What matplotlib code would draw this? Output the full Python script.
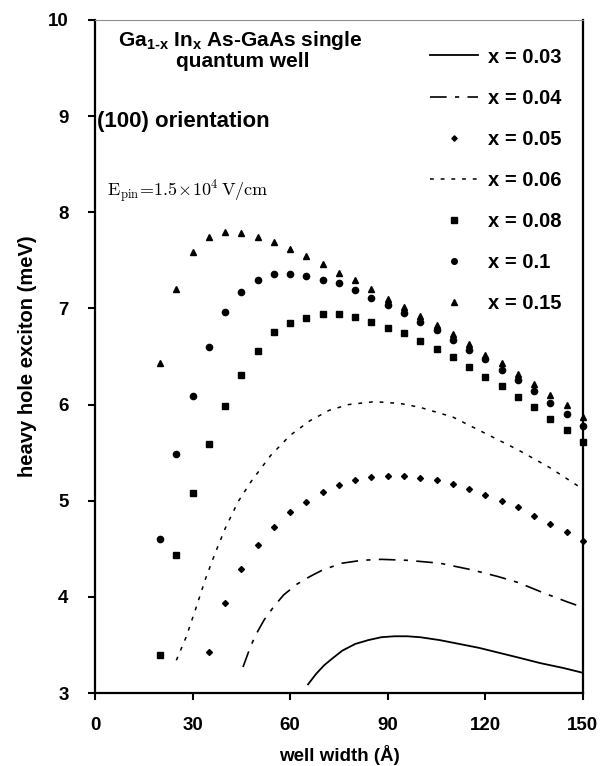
import matplotlib
matplotlib.use("Agg")
import matplotlib.pyplot as plt

plt.rcParams['font.family'] = ['Liberation Sans', 'DejaVu Sans']
plt.rcParams['font.weight'] = 'bold'
plt.rcParams['mathtext.fontset'] = 'custom'
plt.rcParams['mathtext.rm'] = 'Liberation Sans:bold'
plt.rcParams['mathtext.bf'] = 'Liberation Sans:bold'
plt.rcParams['mathtext.it'] = 'Liberation Sans:bold'

# --- data ---
w_pts = [20, 25, 30, 35, 40, 45, 50, 55, 60, 65, 70, 75, 80, 85, 90, 95,
         100, 105, 110, 115, 120, 125, 130, 135, 140, 145, 150]

e_x015 = [6.43, 7.20, 7.59, 7.74, 7.79, 7.78, 7.74, 7.69, 7.62, 7.54, 7.46, 7.37,
          7.29, 7.20, 7.10, 7.01, 6.92, 6.83, 6.73, 6.63, 6.52, 6.43, 6.32, 6.21,
          6.10, 5.99, 5.87]
e_x010 = [4.60, 5.49, 6.09, 6.60, 6.96, 7.17, 7.30, 7.36, 7.36, 7.34, 7.30, 7.26,
          7.19, 7.11, 7.03, 6.95, 6.86, 6.77, 6.67, 6.57, 6.47, 6.36, 6.25, 6.14,
          6.02, 5.90, 5.78]
e_x008 = [3.39, 4.43, 5.08, 5.59, 5.98, 6.31, 6.56, 6.75, 6.85, 6.90, 6.94, 6.94,
          6.91, 6.86, 6.80, 6.74, 6.66, 6.58, 6.49, 6.39, 6.29, 6.19, 6.08, 5.97,
          5.85, 5.73, 5.61]
w_x005 = w_pts[3:]
e_x005 = [3.43, 3.94, 4.29, 4.54, 4.73, 4.88, 4.99, 5.09, 5.16, 5.22, 5.25, 5.26,
          5.26, 5.24, 5.22, 5.17, 5.12, 5.06, 5.00, 4.93, 4.84, 4.76, 4.67, 4.58]

w_x006 = [25, 28, 31, 34, 37, 40, 44, 48, 54, 60, 66, 72, 78, 86, 94, 100, 110,
          120, 130, 140, 150]
e_x006 = [3.34, 3.58, 3.88, 4.19, 4.46, 4.71, 4.99, 5.20, 5.47, 5.68, 5.83, 5.94,
          6.00, 6.03, 6.01, 5.97, 5.87, 5.70, 5.53, 5.34, 5.12]

w_x004 = [45.5, 48, 50, 52, 55, 58, 62, 66, 70, 76, 82, 88, 96, 106, 116, 124,
          130, 138, 145, 150]
e_x004 = [3.27, 3.50, 3.64, 3.76, 3.90, 4.02, 4.13, 4.21, 4.28, 4.35, 4.38, 4.39,
          4.38, 4.35, 4.28, 4.21, 4.15, 4.04, 3.95, 3.89]

w_x003 = [65.5, 68, 70.5, 73, 76, 80, 84, 88, 92, 96, 100, 106, 112, 118, 124,
          130, 137, 144, 150]
e_x003 = [3.09, 3.20, 3.29, 3.36, 3.44, 3.51, 3.55, 3.58, 3.59, 3.59, 3.58, 3.55,
          3.51, 3.47, 3.42, 3.37, 3.31, 3.26, 3.21]

fig = plt.figure(figsize=(6.11, 7.66), dpi=100)
ax = fig.add_axes([0.1555, 0.0953, 0.7985, 0.8787])

ax.plot(w_x003, e_x003, color='black', lw=1.3, label='x = 0.03')
ax.plot(w_x004, e_x004, color='black', lw=1.2, dashes=(10, 5, 2.5, 5), label='x = 0.04')
ax.plot(w_x005, e_x005, ls='none', marker='D', ms=3, color='black', clip_on=False,
        label='x = 0.05')
ax.plot(w_x006, e_x006, color='black', lw=1.1, dashes=(2.5, 4.5), label='x = 0.06')
ax.plot(w_pts, e_x008, ls='none', marker='s', ms=4.5, color='black', clip_on=False,
        label='x = 0.08')
ax.plot(w_pts, e_x010, ls='none', marker='o', ms=4.5, color='black', clip_on=False,
        label='x = 0.1')
ax.plot(w_pts, e_x015, ls='none', marker='^', ms=4.5, color='black', clip_on=False,
        label='x = 0.15')

ax.set_xlim(0, 150)
ax.set_ylim(3, 10)
ax.set_xticks([0, 30, 60, 90, 120, 150])
ax.set_yticks([3, 4, 5, 6, 7, 8, 9, 10])
ax.tick_params(direction='out', length=5, width=1.5, labelsize=13.5)
ax.tick_params(axis='x', pad=12)
ax.tick_params(axis='y', pad=14)
for side in ['left', 'bottom', 'right']:
    ax.spines[side].set_linewidth(1.6)
ax.spines['top'].set_linewidth(0.8)
ax.spines['top'].set_color('0.55')

ax.set_xlabel('well width (Å)', fontsize=13.5, fontweight='bold', labelpad=8)
ax.set_ylabel('heavy hole exciton (meV)', fontsize=14.5, fontweight='bold', labelpad=8)

ax.legend(loc='upper left', bbox_to_anchor=(0.686, 0.959), frameon=False,
          fontsize=14.5, handlelength=2.4, handletextpad=0.5, labelspacing=1.1,
          borderpad=0, borderaxespad=0, numpoints=1, markerscale=0.9)

ax.text(0.297, 0.970, r'Ga$_{\mathbf{1\text{-}x}}$ In$_{\mathbf{x}}$ As-GaAs single',
        transform=ax.transAxes, ha='center', va='center', fontsize=15,
        fontweight='bold')
ax.text(0.302, 0.938, 'quantum well', transform=ax.transAxes, ha='center',
        va='center', fontsize=15, fontweight='bold')
ax.text(0.005, 0.849, '(100) orientation', transform=ax.transAxes, ha='left',
        va='center', fontsize=16, fontweight='bold')
ax.text(0.025, 0.745, r'$\mathrm{E_{pin}\!=\!1.5\!\times\!10^4\,V/cm}$',
        transform=ax.transAxes, ha='left', va='center', fontsize=13,
        math_fontfamily='cm')

fig.savefig('out.png', dpi=100)
